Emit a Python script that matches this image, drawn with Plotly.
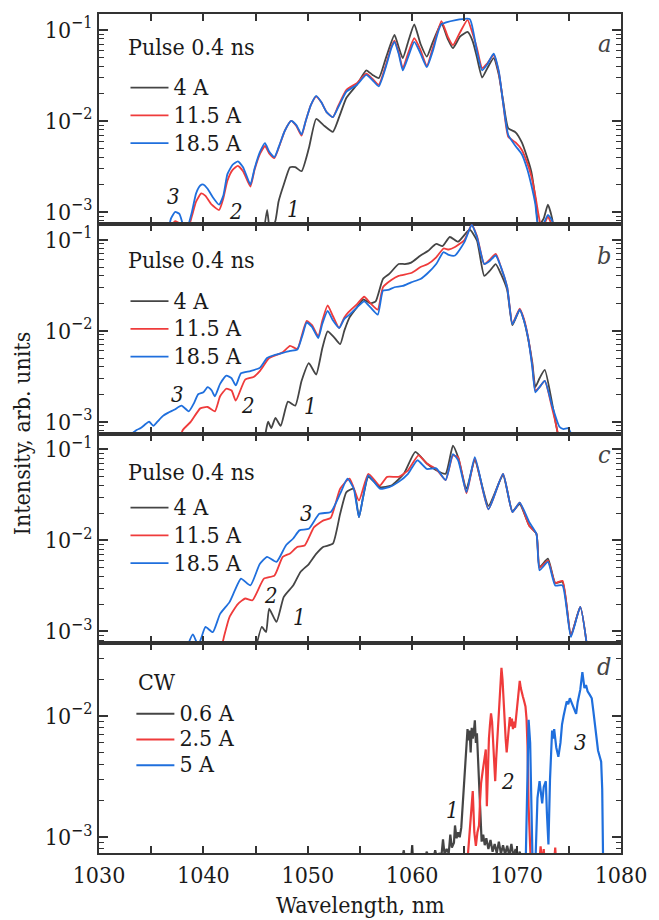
import math
import plotly.graph_objects as go
from plotly.subplots import make_subplots

# ---------------- data (wavelength nm, intensity arb. units) ----------------
A_BLACK = [(1045.7,5e-4),(1046.1,1.05e-3),(1046.4,6e-4),(1046.9,8e-4),(1047.2,1.3e-3),(1047.7,2.0e-3),(1048.3,3.1e-3),(1048.8,3.1e-3),(1049.4,2.8e-3),(1050.1,5.0e-3),(1050.8,1.05e-2),(1051.5,9.0e-3),(1052.4,7.6e-3),(1053.0,1.1e-2),(1053.7,1.8e-2),(1054.7,2.5e-2),(1055.6,3.6e-2),(1056.2,3.2e-2),(1056.8,2.95e-2),(1057.5,5.0e-2),(1058.3,8.8e-2),(1058.7,6.5e-2),(1059.1,4.9e-2),(1059.7,8.0e-2),(1060.2,0.115),(1060.8,0.07),(1061.4,0.051),(1062.0,0.075),(1062.8,0.118),(1063.4,0.08),(1063.9,0.063),(1064.6,0.085),(1065.3,0.095),(1065.8,0.075),(1066.2,0.05),(1066.7,0.030),(1067.2,0.038),(1067.8,0.049),(1068.3,0.032),(1068.7,0.017),(1069.2,8.3e-3),(1069.9,7.5e-3),(1070.5,5.8e-3),(1071.0,4.0e-3),(1071.4,2.8e-3),(1071.8,1.4e-3),(1072.1,7e-4),(1072.6,8.5e-4),(1073.0,1.2e-3),(1073.4,8.5e-4),(1073.7,5e-4)]
A_RED = [(1036.7,5e-4),(1037.0,7e-4),(1037.3,7.9e-4),(1037.7,7.5e-4),(1038.2,5e-4),(1038.9,9e-4),(1039.3,1.3e-3),(1039.8,1.6e-3),(1040.2,1.5e-3),(1040.8,1.2e-3),(1041.5,1.05e-3),(1041.9,1.4e-3),(1042.3,2.2e-3),(1042.8,2.9e-3),(1043.3,3.2e-3),(1043.8,2.8e-3),(1044.5,1.9e-3),(1044.9,2.9e-3),(1045.4,4.3e-3),(1045.9,5.3e-3),(1046.3,4.4e-3),(1046.8,3.9e-3),(1047.3,5.4e-3),(1047.8,7.8e-3),(1048.4,1.0e-2),(1048.9,8.8e-3),(1049.4,6.9e-3),(1049.8,1.0e-2),(1050.3,1.5e-2),(1050.8,1.85e-2),(1051.3,1.6e-2),(1051.8,1.25e-2),(1052.4,1.1e-2),(1052.9,1.45e-2),(1053.7,2.2e-2),(1054.7,2.6e-2),(1055.6,3.3e-2),(1056.2,2.9e-2),(1056.8,2.5e-2),(1057.5,4.2e-2),(1058.0,6.5e-2),(1058.3,7.6e-2),(1058.7,5.7e-2),(1059.1,3.8e-2),(1059.6,5.5e-2),(1060.2,8.1e-2),(1060.8,6.0e-2),(1061.4,4.0e-2),(1062.0,6.5e-2),(1062.8,0.125),(1063.4,0.085),(1063.9,0.068),(1064.6,0.095),(1065.3,0.129),(1065.8,0.09),(1066.2,0.063),(1066.7,0.038),(1067.2,0.043),(1067.8,0.053),(1068.3,0.034),(1068.7,0.016),(1069.2,6.7e-3),(1069.9,5.8e-3),(1070.5,4.8e-3),(1071.0,3.5e-3),(1071.4,2.5e-3),(1071.8,1.5e-3),(1072.1,9.3e-4),(1072.4,6.5e-4),(1072.7,7.5e-4),(1073.0,8.9e-4),(1073.4,7e-4),(1073.7,5e-4)]
A_BLUE = [(1036.5,5e-4),(1036.9,8.5e-4),(1037.3,1.0e-3),(1037.7,9.5e-4),(1038.1,7e-4),(1038.4,6.5e-4),(1038.9,1.0e-3),(1039.3,1.6e-3),(1039.7,1.95e-3),(1040.0,2.0e-3),(1040.4,1.8e-3),(1040.9,1.45e-3),(1041.5,1.2e-3),(1041.9,1.5e-3),(1042.3,2.6e-3),(1042.8,3.3e-3),(1043.3,3.6e-3),(1043.8,3.1e-3),(1044.5,2.0e-3),(1044.9,3.0e-3),(1045.4,4.5e-3),(1045.9,5.7e-3),(1046.3,4.6e-3),(1046.8,4.0e-3),(1047.3,5.5e-3),(1047.8,7.8e-3),(1048.4,1.0e-2),(1048.9,9.0e-3),(1049.4,7.1e-3),(1049.8,1.0e-2),(1050.3,1.5e-2),(1050.8,1.88e-2),(1051.3,1.6e-2),(1051.8,1.25e-2),(1052.4,1.1e-2),(1052.9,1.4e-2),(1053.7,2.1e-2),(1054.7,2.5e-2),(1055.6,3.2e-2),(1056.2,2.8e-2),(1056.8,2.4e-2),(1057.5,4.0e-2),(1058.0,6.3e-2),(1058.3,7.4e-2),(1058.7,5.5e-2),(1059.1,3.6e-2),(1059.6,5.0e-2),(1060.2,7.4e-2),(1060.8,5.5e-2),(1061.4,3.9e-2),(1062.0,6.0e-2),(1062.8,0.115),(1065.5,0.132),(1065.9,0.09),(1066.2,0.058),(1066.7,0.036),(1067.2,0.042),(1067.8,0.055),(1068.3,0.035),(1068.7,0.016),(1069.2,7.0e-3),(1069.9,5.3e-3),(1070.5,4.3e-3),(1071.0,3.0e-3),(1071.4,2.0e-3),(1071.8,1.2e-3),(1072.1,6.5e-4),(1072.6,7.5e-4),(1073.0,9.3e-4),(1073.4,8.0e-4),(1073.7,5e-4)]

B_BLACK = [(1045.8,5e-4),(1046.0,8e-4),(1046.2,1.0e-3),(1046.5,8.5e-4),(1046.9,1.1e-3),(1047.4,9e-4),(1048.1,1.66e-3),(1048.8,1.5e-3),(1049.4,2.8e-3),(1050.1,4.4e-3),(1050.8,3.3e-3),(1051.4,6.5e-3),(1051.9,9.8e-3),(1052.5,8.5e-3),(1053.1,7.1e-3),(1053.5,1.0e-2),(1054.0,1.4e-2),(1054.7,1.8e-2),(1055.3,2.2e-2),(1056.0,2.0e-2),(1056.5,2.1e-2),(1057.2,3.7e-2),(1057.8,4.2e-2),(1058.7,5.4e-2),(1059.3,5.4e-2),(1059.9,5.6e-2),(1060.8,6.7e-2),(1061.5,7.5e-2),(1062.3,9.0e-2),(1062.9,8.5e-2),(1063.6,0.107),(1064.4,0.095),(1065.5,0.129),(1066.2,0.098),(1066.9,0.040),(1067.4,0.045),(1068.0,0.054),(1068.5,0.042),(1069.1,2.8e-2),(1069.6,1.15e-2),(1070.3,1.7e-2),(1070.7,1.3e-2),(1071.1,8.2e-3),(1071.5,4.5e-3),(1071.8,2.4e-3),(1072.2,3.0e-3),(1072.7,3.7e-3),(1073.4,1.6e-3),(1073.8,9e-4),(1074.1,6e-4)]
B_RED = [(1037.6,5e-4),(1038.0,8e-4),(1038.8,1.0e-3),(1039.7,1.4e-3),(1040.4,1.45e-3),(1041.1,1.3e-3),(1041.6,1.9e-3),(1042.2,2.3e-3),(1042.7,2.2e-3),(1043.1,1.7e-3),(1044.0,2.9e-3),(1044.8,3.1e-3),(1045.4,3.6e-3),(1046.3,5.0e-3),(1047.0,5.4e-3),(1047.6,5.8e-3),(1048.3,6.8e-3),(1049.0,6.3e-3),(1049.5,9.5e-3),(1049.9,1.28e-2),(1050.4,1.15e-2),(1051.0,8.7e-3),(1051.4,1.3e-2),(1051.9,1.9e-2),(1052.4,1.45e-2),(1053.0,1.07e-2),(1053.5,1.4e-2),(1053.9,1.6e-2),(1054.7,1.95e-2),(1055.4,2.36e-2),(1056.0,2.0e-2),(1056.7,1.7e-2),(1057.2,3.0e-2),(1058.0,3.6e-2),(1058.7,4.0e-2),(1059.9,4.3e-2),(1060.8,5.0e-2),(1061.5,5.4e-2),(1062.3,6.4e-2),(1063.0,8.0e-2),(1063.5,7.8e-2),(1064.1,8.3e-2),(1065.0,9.9e-2),(1065.7,0.145),(1066.2,0.11),(1066.9,0.054),(1067.4,0.06),(1068.0,0.07),(1068.5,0.05),(1069.1,3.0e-2),(1069.6,1.2e-2),(1070.3,1.75e-2),(1070.7,1.35e-2),(1071.1,8.5e-3),(1071.5,4.2e-3),(1071.8,2.2e-3),(1072.2,2.4e-3),(1072.7,2.8e-3),(1073.4,1.4e-3),(1073.8,9e-4),(1074.1,6e-4)]
B_BLUE = [(1032.6,5e-4),(1033.0,7e-4),(1033.6,8.1e-4),(1034.0,8.5e-4),(1034.5,9.5e-4),(1034.8,1.0e-3),(1035.2,9.0e-4),(1035.6,1.0e-3),(1036.1,1.15e-3),(1036.6,1.25e-3),(1037.2,1.35e-3),(1037.9,1.5e-3),(1038.6,1.3e-3),(1039.1,1.6e-3),(1039.5,2.0e-3),(1040.0,2.1e-3),(1040.4,2.4e-3),(1040.8,2.2e-3),(1041.1,1.9e-3),(1041.6,2.6e-3),(1042.2,3.2e-3),(1042.7,3.0e-3),(1043.1,2.5e-3),(1043.6,3.4e-3),(1044.5,3.6e-3),(1045.4,3.9e-3),(1046.1,5.0e-3),(1046.8,5.4e-3),(1047.6,5.7e-3),(1048.3,6.0e-3),(1049.0,6.2e-3),(1049.5,9.0e-3),(1049.9,1.23e-2),(1050.4,1.1e-2),(1051.0,8.3e-3),(1051.4,1.2e-2),(1051.9,1.65e-2),(1052.4,1.3e-2),(1053.0,1.07e-2),(1053.5,1.35e-2),(1054.0,1.5e-2),(1054.7,1.8e-2),(1055.4,2.1e-2),(1056.0,1.8e-2),(1056.7,1.5e-2),(1057.2,2.75e-2),(1057.7,2.8e-2),(1058.3,3.0e-2),(1059.1,3.1e-2),(1059.9,3.4e-2),(1060.8,3.7e-2),(1061.5,4.3e-2),(1062.3,5.4e-2),(1063.0,7.3e-2),(1063.5,6.8e-2),(1064.1,6.7e-2),(1065.0,9.4e-2),(1065.7,0.145),(1066.2,0.107),(1066.9,0.054),(1067.4,0.058),(1068.0,0.067),(1068.5,0.05),(1069.1,3.0e-2),(1069.6,1.18e-2),(1070.3,1.7e-2),(1070.7,1.3e-2),(1071.1,8.4e-3),(1071.5,4.0e-3),(1071.8,2.1e-3),(1072.2,2.4e-3),(1072.7,2.8e-3),(1073.4,1.5e-3),(1074.1,8.8e-4),(1074.5,8.3e-4),(1074.9,8.5e-4),(1075.3,7e-4),(1075.6,5e-4)]

C_BLACK = [(1044.8,5e-4),(1045.6,1.12e-3),(1046.0,9.8e-4),(1046.3,1.78e-3),(1047.0,1.27e-3),(1047.7,2.4e-3),(1048.6,3.2e-3),(1049.3,4.5e-3),(1050.1,5.5e-3),(1050.8,7.1e-3),(1051.5,8.5e-3),(1052.4,9.2e-3),(1053.1,1.96e-2),(1053.7,3.4e-2),(1054.4,3.7e-2),(1054.9,1.8e-2),(1055.3,3.0e-2),(1055.8,5.0e-2),(1056.9,3.85e-2),(1058.0,4.0e-2),(1059.2,5.4e-2),(1060.3,9.4e-2),(1061.4,7.0e-2),(1062.3,5.9e-2),(1063.2,5.4e-2),(1063.9,0.11),(1064.4,8.2e-2),(1065.2,3.7e-2),(1066.0,7.6e-2),(1067.3,2.4e-2),(1068.7,5.2e-2),(1069.6,2.1e-2),(1070.3,2.5e-2),(1071.2,1.46e-2),(1071.9,1.18e-2),(1072.2,5.1e-3),(1073.0,6.3e-3),(1073.7,3.4e-3),(1074.4,3.5e-3),(1075.2,9.1e-4),(1076.1,1.86e-3),(1076.9,5e-4)]
C_RED = [(1041.5,5e-4),(1042.0,9e-4),(1042.5,1.44e-3),(1043.3,2.0e-3),(1044.0,2.3e-3),(1044.7,2.2e-3),(1045.8,3.8e-3),(1046.8,4.1e-3),(1047.6,6.6e-3),(1048.3,7.2e-3),(1049.0,8.5e-3),(1049.7,8.8e-3),(1050.6,1.4e-2),(1051.5,1.66e-2),(1052.2,1.77e-2),(1053.1,3.7e-2),(1054.0,4.77e-2),(1054.9,2.75e-2),(1055.8,5.4e-2),(1056.9,4.0e-2),(1057.6,5.0e-2),(1058.7,5.0e-2),(1059.6,5.9e-2),(1060.6,8.6e-2),(1061.4,7.0e-2),(1062.3,6.1e-2),(1063.2,4.6e-2),(1063.9,8.6e-2),(1064.4,8.2e-2),(1065.2,3.3e-2),(1066.0,7.9e-2),(1067.3,2.2e-2),(1068.7,5.4e-2),(1069.6,2.05e-2),(1070.3,2.6e-2),(1071.2,1.45e-2),(1071.9,1.18e-2),(1072.2,5.0e-3),(1073.0,6.0e-3),(1073.7,3.4e-3),(1074.4,3.6e-3),(1075.2,9.0e-4),(1076.1,1.86e-3),(1076.9,5e-4)]
C_BLUE = [(1038.2,5e-4),(1038.6,7.5e-4),(1039.0,9.3e-4),(1039.5,7e-4),(1039.8,8.5e-4),(1040.2,1.12e-3),(1040.9,9.8e-4),(1041.6,1.56e-3),(1042.5,2.1e-3),(1043.0,2.8e-3),(1043.6,3.8e-3),(1044.5,3.2e-3),(1045.4,5.5e-3),(1046.1,6.6e-3),(1047.0,5.8e-3),(1047.9,8.8e-3),(1048.6,1.05e-2),(1049.2,1.29e-2),(1050.1,1.34e-2),(1051.1,1.96e-2),(1052.2,2.05e-2),(1053.1,3.26e-2),(1053.8,4.77e-2),(1054.4,3.7e-2),(1054.9,1.8e-2),(1055.3,3.0e-2),(1055.8,5.2e-2),(1056.9,3.7e-2),(1057.8,3.85e-2),(1058.7,4.4e-2),(1059.6,5.4e-2),(1060.5,7.6e-2),(1061.4,6.1e-2),(1062.3,6.2e-2),(1063.2,4.6e-2),(1063.9,8.9e-2),(1064.4,7.6e-2),(1065.2,3.4e-2),(1066.0,8.2e-2),(1067.3,2.2e-2),(1068.7,5.4e-2),(1069.6,2.05e-2),(1070.3,2.6e-2),(1071.2,1.6e-2),(1071.9,1.18e-2),(1072.2,4.7e-3),(1073.0,5.8e-3),(1073.7,3.2e-3),(1074.4,3.2e-3),(1075.2,8.7e-4),(1076.1,1.86e-3),(1076.9,5e-4)]

D_BLACK = [(1058.9,6e-4),(1059.2,7.8e-4),(1059.3,6.2e-4),(1059.5,6e-4),(1059.9,6.6e-4),(1060.0,8.6e-4),(1060.1,6.2e-4),(1060.4,6.8e-4),(1060.6,6.2e-4),(1060.9,7.0e-4),(1061.1,6.3e-4),(1061.4,7.6e-4),(1061.6,6.5e-4),(1061.8,7.2e-4),(1062.0,6.4e-4),(1062.2,7.8e-4),(1062.4,6.6e-4),(1062.6,7.4e-4),(1062.8,7.0e-4),(1062.95,9.6e-4),(1063.1,7.2e-4),(1063.3,8.0e-4),(1063.5,7.4e-4),(1063.65,1.05e-3),(1063.8,8.2e-4),(1064.0,9.0e-4),(1064.1,1.25e-3),(1064.25,9.8e-4),(1064.4,1.1e-3),(1064.55,1.0e-3),(1064.7,1.2e-3),(1064.85,1.9e-3),(1065.0,3.3e-3),(1065.15,5.5e-3),(1065.3,7.8e-3),(1065.4,6.3e-3),(1065.5,7.6e-3),(1065.6,5.0e-3),(1065.7,8.0e-3),(1065.8,6.5e-3),(1065.9,7.3e-3),(1066.0,9.2e-3),(1066.1,6.0e-3),(1066.2,7.2e-3),(1066.3,4.2e-3),(1066.4,3.0e-3),(1066.5,1.6e-3),(1066.65,9.2e-4),(1066.8,1.05e-3),(1066.95,8.6e-4),(1067.1,9.8e-4),(1067.3,8.0e-4),(1067.5,9.5e-4),(1067.7,7.6e-4),(1067.9,8.8e-4),(1068.1,7.4e-4),(1068.3,9.2e-4),(1068.5,7.3e-4),(1068.7,8.6e-4),(1068.9,7.2e-4),(1069.1,8.5e-4),(1069.3,7.0e-4),(1069.5,8.8e-4),(1069.7,6.9e-4),(1069.9,8.0e-4),(1070.1,6.8e-4),(1070.3,7.6e-4),(1070.5,6.5e-4),(1070.7,7.2e-4),(1070.9,5e-4)]
D_RED = [(1065.2,5e-4),(1065.35,7.5e-4),(1065.5,1.2e-3),(1065.65,1.6e-3),(1065.8,2.4e-3),(1065.95,1.1e-3),(1066.1,8.5e-4),(1066.25,1.1e-3),(1066.4,1.25e-3),(1066.5,2.0e-3),(1066.6,2.8e-3),(1066.75,3.5e-3),(1066.9,4.4e-3),(1067.05,5.3e-3),(1067.15,1.8e-3),(1067.25,4.0e-3),(1067.35,6.5e-3),(1067.45,8.5e-3),(1067.55,1.05e-2),(1067.65,9.0e-3),(1067.75,6.5e-3),(1067.85,4.2e-3),(1067.95,2.9e-3),(1068.05,4.5e-3),(1068.15,6.5e-3),(1068.25,9.0e-3),(1068.35,1.2e-2),(1068.45,2.1e-2),(1068.55,2.5e-2),(1068.65,2.0e-2),(1068.75,1.3e-2),(1068.85,9.0e-3),(1068.95,6.5e-3),(1069.05,5.0e-3),(1069.15,6.5e-3),(1069.25,8.0e-3),(1069.35,9.8e-3),(1069.45,8.2e-3),(1069.55,9.5e-3),(1069.65,7.8e-3),(1069.75,9.0e-3),(1069.85,8.0e-3),(1069.95,9.8e-3),(1070.05,1.15e-2),(1070.15,1.4e-2),(1070.3,1.95e-2),(1070.4,1.7e-2),(1070.5,1.6e-2),(1070.6,1.45e-2),(1070.7,1.35e-2),(1070.85,1.2e-2),(1070.95,9.5e-3),(1071.05,5.5e-3),(1071.15,1.8e-3),(1071.25,8e-4),(1071.4,5e-4),(1072.1,5e-4),(1072.3,8.4e-4),(1072.45,6e-4),(1072.6,8.0e-4),(1072.75,5e-4),(1073.5,5e-4),(1073.7,8.2e-4),(1073.85,5e-4)]
D_BLUE = [(1070.85,5e-4),(1071.0,2.5e-3),(1071.15,9.3e-3),(1071.3,6.0e-3),(1071.45,9e-4),(1071.55,5e-4),(1071.8,6e-4),(1072.0,2.1e-3),(1072.2,2.9e-3),(1072.35,2.2e-3),(1072.45,1.9e-3),(1072.6,2.6e-3),(1072.8,2.9e-3),(1072.9,1.6e-3),(1073.05,8.7e-4),(1073.2,3.0e-3),(1073.4,7.6e-3),(1073.5,6.5e-3),(1073.6,7.8e-3),(1073.8,5.5e-3),(1074.0,4.6e-3),(1074.2,6.0e-3),(1074.35,8.5e-3),(1074.5,1.0e-2),(1074.65,1.2e-2),(1074.8,1.32e-2),(1074.95,1.25e-2),(1075.1,1.4e-2),(1075.25,1.3e-2),(1075.4,1.2e-2),(1075.55,1.15e-2),(1075.7,1.04e-2),(1075.85,1.3e-2),(1076.1,1.65e-2),(1076.3,2.3e-2),(1076.5,1.7e-2),(1076.65,1.8e-2),(1076.8,1.6e-2),(1077.0,1.5e-2),(1077.2,1.4e-2),(1077.35,1.1e-2),(1077.5,8.7e-3),(1077.65,6.5e-3),(1077.8,5.2e-3),(1078.0,4.5e-3),(1078.1,4.2e-3),(1078.2,2.5e-3),(1078.3,5e-4)]

PULSE_LABELS = ["4 A", "11.5 A", "18.5 A"]
CW_LABELS = ["0.6 A", "2.5 A", "5 A"]
PANEL_TITLES = ["Pulse 0.4 ns", "Pulse 0.4 ns", "Pulse 0.4 ns", "CW"]
PANEL_LETTERS = ["a", "b", "c", "d"]
# curve-number labels: (panel row, text, wavelength, intensity)
CURVE_TAGS = [
    (1, "3", 1037.1, 1.48e-3), (1, "2", 1043.1, 1.0e-3), (1, "1", 1048.6, 1.05e-3),
    (2, "3", 1037.5, 2.0e-3), (2, "2", 1044.3, 1.5e-3), (2, "1", 1050.3, 1.48e-3),
    (3, "3", 1049.9, 1.96e-2), (3, "2", 1046.5, 2.5e-3), (3, "1", 1049.2, 1.44e-3),
    (4, "1", 1063.9, 1.67e-3), (4, "2", 1069.2, 2.9e-3), (4, "3", 1076.1, 6.1e-3),
]

# ---------------- styling ----------------
FONT = "DejaVu Serif Condensed, DejaVu Serif, serif"
TXT = "#1a1a1a"
AX = "#333333"
COLORS = ["#454545", "#ef3b3b", "#1f6fdd"]
FS = 23          # visible text size

fig = make_subplots(rows=4, cols=1, shared_xaxes=True, vertical_spacing=0)

panels = [
    (1, [A_BLACK, A_RED, A_BLUE], PULSE_LABELS, "legend"),
    (2, [B_BLACK, B_RED, B_BLUE], PULSE_LABELS, "legend2"),
    (3, [C_BLACK, C_RED, C_BLUE], PULSE_LABELS, "legend3"),
    (4, [D_BLACK, D_RED, D_BLUE], CW_LABELS, "legend4"),
]
for row, series, labels, lg in panels:
    for s, lab, col in zip(series, labels, COLORS):
        xs = [p[0] for p in s]
        ys = [p[1] for p in s]
        if row < 4:
            line = dict(color=col, width=1.8, shape="spline", smoothing=0.5)
        else:
            line = dict(color=col, width=2.2)
        fig.add_trace(go.Scatter(x=xs, y=ys, mode="lines",
                                 name=f"<span style='font-size:{FS}px'>{lab}</span>",
                                 line=line, legend=lg, showlegend=True), row=row, col=1)

PH = 841.0
def py(px):
    return (853.0 - px) / PH
leg_spec = {"legend": (126, 83, 19), "legend2": (126, 297, 19),
            "legend3": (126, 504, 19), "legend4": (132, 711.5, 17.5)}
leg_layout = {}
for k, (lx, first_c, lfs) in leg_spec.items():
    leg_layout[k] = dict(x=(lx - 99) / 532.0, y=py(first_c - 16), xanchor="left", yanchor="top",
                         bgcolor="rgba(0,0,0,0)", borderwidth=0,
                         font=dict(family=FONT, size=lfs, color=TXT),
                         itemwidth=38, tracegroupgap=0)
fig.update_layout(**leg_layout)

major_y = [1e-3, 1e-2, 1e-1]
major_txt = ["10<sup>−3</sup>", "10<sup>−2</sup>", "10<sup>−1</sup>"]
minor_y = [m * d for d in (1e-4, 1e-3, 1e-2, 1e-1) for m in range(2, 10)]

for r in range(1, 5):
    fig.update_xaxes(row=r, col=1, range=[1030, 1080], showline=True, linecolor=AX,
                     linewidth=2, mirror="ticks", ticks="inside", ticklen=7, tickwidth=1.5,
                     tickcolor=AX, tick0=1030, dtick=10,
                     minor=dict(dtick=5, tick0=1030, ticks="inside", ticklen=7,
                                tickwidth=1.5, tickcolor=AX, showgrid=False),
                     showgrid=False, zeroline=False, showticklabels=(r == 4),
                     tickfont=dict(family=FONT, size=FS, color=TXT))
    yr = [-3.13, -0.825] if r < 4 else [-3.13, -1.40]
    fig.update_yaxes(row=r, col=1, type="log", range=yr, showline=True, linecolor=AX,
                     linewidth=2, mirror="ticks", ticks="inside", ticklen=9, tickwidth=1.5,
                     tickcolor=AX, tickmode="array", tickvals=major_y, ticktext=major_txt,
                     minor=dict(tickmode="array", tickvals=minor_y, ticks="inside",
                                ticklen=5, tickwidth=1.2, tickcolor=AX, showgrid=False),
                     showgrid=False, zeroline=False,
                     tickfont=dict(family=FONT, size=FS, color=TXT))

ann = []
title_pos = [(127, 45), (127, 259), (127, 471), (137, 682)]
for t, (tx, ty) in zip(PANEL_TITLES, title_pos):
    ann.append(dict(text=t, xref="paper", yref="paper", x=(tx - 99) / 532.0, y=py(ty),
                    xanchor="left", yanchor="middle", showarrow=False,
                    font=dict(family=FONT, size=FS, color=TXT)))
letter_y = [0.86, 0.85, 0.9, 0.89]
for i, L in enumerate(PANEL_LETTERS):
    suffix = "" if i == 0 else str(i + 1)
    ann.append(dict(text=f"<i>{L}</i>", xref=f"x{suffix} domain", yref=f"y{suffix} domain",
                    x=0.984, y=letter_y[i], xanchor="right", yanchor="middle",
                    showarrow=False, font=dict(family=FONT, size=FS + 2, color="#444")))
for row, t, wl, val in CURVE_TAGS:
    suffix = "" if row == 1 else str(row)
    ann.append(dict(text=f"<i>{t}</i>", xref=f"x{suffix}", yref=f"y{suffix}",
                    x=wl, y=math.log10(val), showarrow=False,
                    font=dict(family=FONT, size=FS - 1, color=TXT)))
ann.append(dict(text="Intensity, arb. units", xref="paper", yref="paper", x=-0.148, y=0.5,
                textangle=-90, showarrow=False, xanchor="center", yanchor="middle",
                font=dict(family=FONT, size=FS, color=TXT)))
ann.append(dict(text="Wavelength, nm", xref="paper", yref="paper", x=0.5, y=-0.062,
                showarrow=False, xanchor="center", yanchor="middle",
                font=dict(family=FONT, size=FS, color=TXT)))

fig.update_layout(width=659, height=920, margin=dict(l=99, r=28, t=12, b=67),
                  paper_bgcolor="white", plot_bgcolor="white", annotations=ann,
                  font=dict(family=FONT, size=FS, color=TXT))

fig.write_html("out.html")
